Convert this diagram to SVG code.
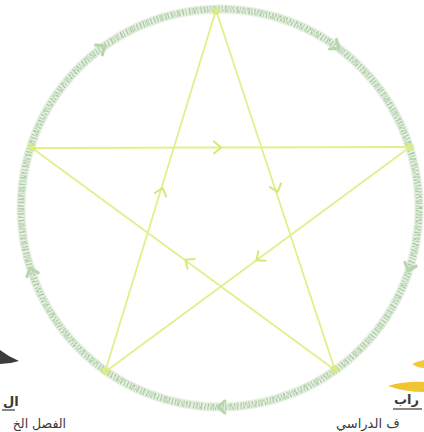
<svg xmlns="http://www.w3.org/2000/svg" width="424" height="432" viewBox="0 0 424 432">
  <style>
    .ring-base { fill: none; stroke: #e6f0e2; stroke-width: 9; }
    .ring-dots { fill: none; stroke: #bad5b1; stroke-width: 7; stroke-dasharray: 1 1.9 0.7 2.6 1.3 1.5 0.8 2.2; }
    .ring-dots2 { fill: none; stroke: #a6c7a0; stroke-width: 2.5; stroke-dasharray: 0.9 3.1 1.2 2.4 0.6 2.8; }
    .star { fill: none; stroke: #e3ee8c; stroke-width: 1.8; stroke-linecap: round; }
    .chev { fill: none; stroke: #d6e77c; stroke-width: 2; stroke-linecap: round; stroke-linejoin: round; }
    .rchev { fill: none; stroke: #b9d5ac; stroke-width: 3; stroke-linecap: round; stroke-linejoin: round; }
    .vtx { fill: #d9ec7a; opacity: 0.7; }
    .label { font-family: "DejaVu Sans", "Noto Sans", sans-serif; fill: #3a3a3a; }
  </style>
  <defs>
    <path id="arrow" d="M-5,-6 L2,0 L-5,6"/>
  </defs>
  <rect width="424" height="432" fill="#ffffff"/>

  <g id="decor">
    <path d="M0,350 Q9,357 19,361 Q10,364 0,364 Z" fill="#3c3c3c"/>
    <path d="M412,364 Q418,361 424,360 L424,368 Q418,368 412,364 Z" fill="#f2c93a"/>
    <path d="M388,386 Q405,381 424,382 L424,392 Q405,392 388,386 Z" fill="#f0c531"/>
  </g>

  <g id="circle">
    <circle class="ring-base" cx="220" cy="208" r="199"/>
    <circle class="ring-dots" cx="220" cy="208" r="199"/>
    <circle class="ring-dots2" cx="220" cy="208" r="200.5"/>
    <circle class="ring-dots2" cx="220" cy="208" r="197.5" stroke-dashoffset="2"/>
  </g>

  <g id="connectors">
    <line class="star" x1="32" y1="148" x2="410" y2="147"/>
    <line class="star" x1="410" y1="147" x2="105" y2="372"/>
    <line class="star" x1="105" y1="372" x2="216" y2="10"/>
    <line class="star" x1="216" y1="10" x2="335" y2="370"/>
    <line class="star" x1="335" y1="370" x2="32" y2="148"/>
    <use href="#arrow" class="chev" transform="translate(219,147.5) rotate(0)"/>
    <use href="#arrow" class="chev" transform="translate(258,259) rotate(143.6)"/>
    <use href="#arrow" class="chev" transform="translate(162,190) rotate(-73)"/>
    <use href="#arrow" class="chev" transform="translate(277,190) rotate(71.7)"/>
    <use href="#arrow" class="chev" transform="translate(187,261) rotate(216.2)"/>
    <use href="#arrow" class="rchev" transform="translate(337,47) rotate(36)"/>
    <use href="#arrow" class="rchev" transform="translate(409,269) rotate(108)"/>
    <use href="#arrow" class="rchev" transform="translate(220,407) rotate(180)"/>
    <use href="#arrow" class="rchev" transform="translate(31,270) rotate(252)"/>
    <use href="#arrow" class="rchev" transform="translate(103,47) rotate(324)"/>
  </g>

  <g id="vertex-top"><circle class="vtx" cx="216" cy="11" r="4"/></g>
  <g id="vertex-left"><circle class="vtx" cx="32" cy="148" r="4"/></g>
  <g id="vertex-right"><circle class="vtx" cx="410" cy="147" r="4"/></g>
  <g id="vertex-bottom-left"><circle class="vtx" cx="105" cy="371" r="4"/></g>
  <g id="vertex-bottom-right"><circle class="vtx" cx="335" cy="369" r="4"/></g>

  <g id="label-left">
    <text class="label" x="3" y="406" font-size="13" font-weight="bold" text-anchor="start">ال</text>
    <line x1="2" y1="410" x2="15" y2="410" stroke="#3a3a3a" stroke-width="1.2"/>
    <text class="label" x="66" y="428" font-size="12.5" text-anchor="end">الفصل الخ</text>
  </g>
  <g id="label-right">
    <text class="label" x="394" y="404" font-size="13" font-weight="bold" text-anchor="start">راب</text>
    <line x1="393" y1="409" x2="422" y2="409" stroke="#3a3a3a" stroke-width="1.2"/>
    <text class="label" x="336" y="428" font-size="13" text-anchor="start">ف الدراسي</text>
  </g>
</svg>
